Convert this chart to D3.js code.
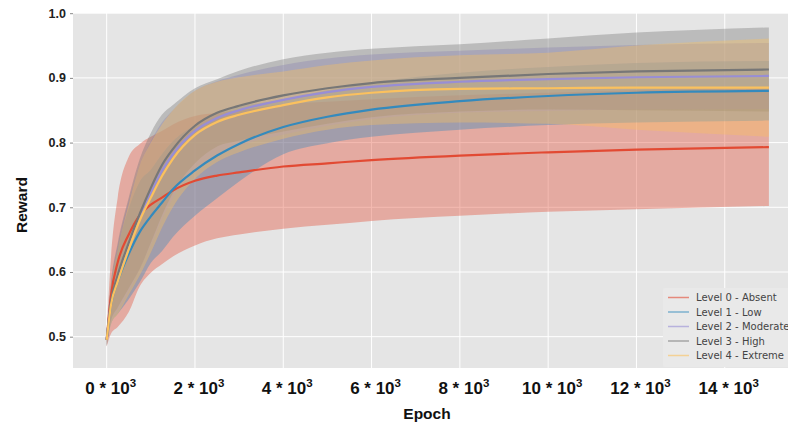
<!DOCTYPE html>
<html lang="en">
<head>
<meta charset="utf-8">
<title>Reward by epoch</title>
<script src="https://d3js.org/d3.v7.min.js"></script>
<style>
  body { margin: 0; background: #fff; }
</style>
</head>
<body>
<script>
var epochs = [0, 100, 250, 500, 750, 1000, 1250, 1500, 2000, 2500, 3000, 4000, 5000, 6000, 8000, 10000, 12000, 15000];

// mean reward per level
var mean0 = [0.495, 0.565, 0.615, 0.658, 0.688, 0.704, 0.715, 0.726, 0.741, 0.749, 0.754, 0.763, 0.768, 0.773, 0.780, 0.785, 0.789, 0.793];
var mean1 = [0.495, 0.550, 0.585, 0.628, 0.662, 0.686, 0.707, 0.728, 0.757, 0.780, 0.798, 0.824, 0.840, 0.851, 0.864, 0.872, 0.877, 0.880];
var mean2 = [0.495, 0.553, 0.590, 0.640, 0.685, 0.722, 0.756, 0.782, 0.818, 0.838, 0.850, 0.866, 0.878, 0.886, 0.894, 0.898, 0.901, 0.903];
var mean3 = [0.495, 0.555, 0.595, 0.645, 0.690, 0.730, 0.765, 0.790, 0.826, 0.846, 0.857, 0.873, 0.884, 0.892, 0.900, 0.906, 0.910, 0.913];
var mean4 = [0.495, 0.550, 0.585, 0.635, 0.680, 0.715, 0.748, 0.775, 0.812, 0.832, 0.843, 0.858, 0.870, 0.877, 0.883, 0.884, 0.885, 0.885];

// spread (std) per level
var std0 = [0.010, 0.060, 0.100, 0.120, 0.110, 0.105, 0.103, 0.102, 0.100, 0.097, 0.096, 0.096, 0.095, 0.094, 0.093, 0.092, 0.092, 0.091];
var std1 = [0.010, 0.030, 0.050, 0.070, 0.078, 0.072, 0.075, 0.074, 0.070, 0.066, 0.058, 0.042, 0.041, 0.042, 0.044, 0.045, 0.046, 0.046];
var std2 = [0.010, 0.030, 0.050, 0.070, 0.080, 0.080, 0.075, 0.068, 0.062, 0.057, 0.055, 0.054, 0.052, 0.050, 0.048, 0.049, 0.050, 0.051];
var std3 = [0.010, 0.030, 0.050, 0.070, 0.085, 0.085, 0.078, 0.068, 0.058, 0.052, 0.054, 0.056, 0.055, 0.053, 0.052, 0.055, 0.060, 0.065];
var std4 = [0.010, 0.030, 0.050, 0.070, 0.085, 0.085, 0.080, 0.075, 0.068, 0.062, 0.058, 0.052, 0.050, 0.050, 0.052, 0.055, 0.065, 0.076];

var levelNames = ["Level 0 - Absent", "Level 1 - Low", "Level 2 - Moderate", "Level 3 - High", "Level 4 - Extreme"];
var levelColors = ["#E24A33", "#348ABD", "#988ED5", "#777777", "#FBC15E"];

var xTicks = [0, 2000, 4000, 6000, 8000, 10000, 12000, 14000];
var yTicks = [0.5, 0.6, 0.7, 0.8, 0.9, 1.0];

var means = [mean0, mean1, mean2, mean3, mean4];
var stds = [std0, std1, std2, std3, std4];

var width = 788,
    height = 427;

var x = d3.scaleLinear()
    .domain([-763, 15750])
    .range([73, 802]);

var y = d3.scaleLinear()
    .domain([0.4516, 1.0003])
    .range([368, 13]);

var svg = d3.select("body").append("svg")
    .attr("width", width)
    .attr("height", height)
    .style("font-family", "'Liberation Sans', Arial, sans-serif");

svg.append("rect")
    .attr("width", width).attr("height", height)
    .attr("fill", "#fff");

// plot background
svg.append("rect")
    .attr("x", x.range()[0])
    .attr("y", y.range()[1])
    .attr("width", x.range()[1] - x.range()[0])
    .attr("height", y.range()[0] - y.range()[1])
    .attr("fill", "#E5E5E5");

// grid
svg.append("g").selectAll("line")
    .data(yTicks)
    .enter().append("line")
    .attr("x1", x.range()[0]).attr("x2", x.range()[1])
    .attr("y1", function(d) { return y(d); })
    .attr("y2", function(d) { return y(d); })
    .attr("stroke", "#fff").attr("stroke-width", 1);

svg.append("g").selectAll("line")
    .data(xTicks)
    .enter().append("line")
    .attr("y1", y.range()[0]).attr("y2", y.range()[1])
    .attr("x1", function(d) { return x(d); })
    .attr("x2", function(d) { return x(d); })
    .attr("stroke", "#fff").attr("stroke-width", 1);

// bands
var rows = means.map(function(m, li) {
  return epochs.map(function(e, i) {
    return { e: e, m: m[i], s: stds[li][i] };
  });
});

var area = d3.area()
    .curve(d3.curveMonotoneX)
    .x(function(d) { return x(d.e); })
    .y0(function(d) { return y(d.m - d.s); })
    .y1(function(d) { return y(d.m + d.s); });

var line = d3.line()
    .curve(d3.curveMonotoneX)
    .x(function(d) { return x(d.e); })
    .y(function(d) { return y(d.m); });

svg.append("g").selectAll("path")
    .data(rows)
    .enter().append("path")
    .attr("d", area)
    .attr("fill", function(d, i) { return levelColors[i]; })
    .attr("fill-opacity", 0.38);

svg.append("g").selectAll("path")
    .data(rows)
    .enter().append("path")
    .attr("d", line)
    .attr("fill", "none")
    .attr("stroke", function(d, i) { return levelColors[i]; })
    .attr("stroke-width", 2.2);

// y axis
var yAxis = svg.append("g")
    .attr("transform", "translate(" + x.range()[0] + ",0)")
    .call(d3.axisLeft(y).tickValues(yTicks).tickSize(3).tickPadding(4)
      .tickFormat(d3.format(".1f")));
yAxis.select(".domain").remove();
yAxis.selectAll(".tick line").attr("stroke", "#888");
yAxis.selectAll(".tick text")
    .attr("fill", "#222")
    .attr("font-size", 12.5)
    .attr("font-weight", "bold")
    .attr("font-family", "'Liberation Sans', Arial, sans-serif");

// x axis labels written as n * 10^3
var xl = svg.append("g").selectAll("text")
    .data(xTicks)
    .enter().append("text")
    .attr("x", function(d) { return x(d) + 4; })
    .attr("y", 393.5)
    .attr("text-anchor", "middle")
    .attr("font-size", 17)
    .attr("font-weight", "bold")
    .attr("fill", "#111");
xl.append("tspan").text(function(d) { return (d / 1000) + " * 10"; });
xl.append("tspan")
    .attr("dy", -7)
    .attr("font-size", 11.5)
    .text("3");

svg.append("text")
    .attr("x", 427)
    .attr("y", 419)
    .attr("text-anchor", "middle")
    .attr("font-size", 15.5)
    .attr("font-weight", "bold")
    .attr("fill", "#111")
    .text("Epoch");

svg.append("text")
    .attr("transform", "translate(27,205) rotate(-90)")
    .attr("text-anchor", "middle")
    .attr("font-size", 15.5)
    .attr("font-weight", "bold")
    .attr("fill", "#111")
    .text("Reward");

// legend
var legend = svg.append("g")
    .attr("transform", "translate(663,288)");

legend.append("rect")
    .attr("width", 140).attr("height", 79)
    .attr("rx", 2)
    .attr("fill", "#E9E9E9");

var item = legend.selectAll("g")
    .data(levelNames)
    .enter().append("g")
    .attr("transform", function(d, i) { return "translate(0," + (9.5 + i * 14.5) + ")"; });

item.append("line")
    .attr("x1", 5).attr("x2", 26)
    .attr("stroke", function(d, i) { return levelColors[i]; })
    .attr("stroke-opacity", 0.6)
    .attr("stroke-width", 1.5);

item.append("text")
    .attr("x", 33)
    .attr("dy", "0.35em")
    .attr("font-family", "'DejaVu Sans', sans-serif")
    .attr("font-size", 10)
    .attr("fill", "#444")
    .text(function(d) { return d; });
</script>
</body>
</html>
